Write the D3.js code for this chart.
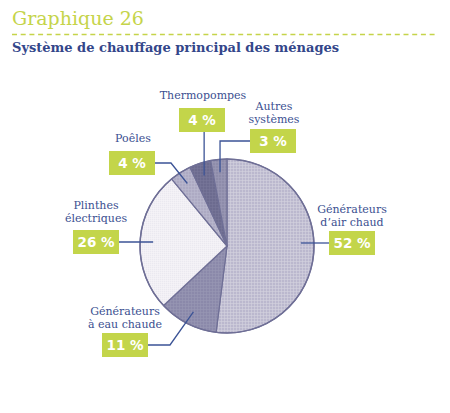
<!DOCTYPE html>
<html>
<head>
<meta charset="utf-8">
<script src="https://cdn.jsdelivr.net/npm/d3@7"></script>
<style>
  body { margin: 0; background: #fff; }
</style>
</head>
<body>
<div id="chart"></div>
<script>
let w = 450;
let h = 413;

// data
let categories = ["Générateurs d'air chaud", "Générateurs à eau chaude", "Plinthes électriques", "Poêles", "Thermopompes", "Autres systèmes"];
let labelLines = [["Générateurs", "d’air chaud"], ["Générateurs", "à eau chaude"], ["Plinthes", "électriques"], ["Poêles"], ["Thermopompes"], ["Autres", "systèmes"]];
let values = [52, 11, 26, 4, 4, 3];
let valueLabels = ["52 %", "11 %", "26 %", "4 %", "4 %", "3 %"];

let sliceColors = ["#bbb8ce", "#8b89aa", "#ebe9f0", "#adaac3", "#6c6b8f", "#8e8caa"];
let green = "#c3d54a";
let blue = "#3b4f91";

// label placement (box top-left, text centre / first baseline, leader type)
let layout = [
  {box: [329, 231], text: [352, 213], side: "left"},
  {box: [102, 333], text: [125, 315], side: "right", elbow: 22},
  {box: [73, 230], text: [96, 209], side: "right"},
  {box: [109, 151], text: [133, 142], side: "right", elbow: 16},
  {box: [179, 108], text: [203, 99], side: "bottom"},
  {box: [250, 129], text: [274, 110], side: "left", elbow: "end"}
];
let boxW = 46, boxH = 24;

let cx = 227, cy = 246, r = 87;

let svg = d3.select("#chart").append("svg")
  .attr("width", w)
  .attr("height", h);

// textures
let defs = svg.append("defs");
let pats = [
  {id: "pAir", base: sliceColors[0], line: "#d4d2e0", step: 3},
  {id: "pEau", base: sliceColors[1], line: "#9897b4", step: 3},
  {id: "pPli", base: sliceColors[2], line: "#f6f5f8", step: 2},
  {id: "pPoe", base: sliceColors[3], line: "#bbb9cf", step: 3},
  {id: "pThe", base: sliceColors[4], line: "#78779a", step: 3},
  {id: "pAut", base: sliceColors[5], line: "#9b99b5", step: 3}
];
pats.forEach(function(p){
  let pat = defs.append("pattern")
    .attr("id", p.id)
    .attr("patternUnits", "userSpaceOnUse")
    .attr("width", p.step)
    .attr("height", p.step);
  pat.append("rect").attr("width", p.step).attr("height", p.step).attr("fill", p.base);
  pat.append("rect").attr("width", p.step).attr("height", 1).attr("fill", p.line).attr("opacity", 0.6);
  pat.append("rect").attr("width", 1).attr("height", p.step).attr("fill", p.line).attr("opacity", 0.6);
});

// title
svg.append("text")
  .text("Graphique 26")
  .attr("x", 12)
  .attr("y", 25)
  .attr("fill", "#c5d44a")
  .style("font-family", "DejaVu Serif")
  .style("font-size", "19px");

svg.append("line")
  .attr("x1", 12).attr("x2", 435)
  .attr("y1", 34.5).attr("y2", 34.5)
  .attr("stroke", "#c5d44a")
  .attr("stroke-width", 1.5)
  .attr("stroke-dasharray", "5,3.7");

svg.append("text")
  .text("Système de chauffage principal des ménages")
  .attr("x", 12)
  .attr("y", 52)
  .attr("fill", "#33468a")
  .style("font-family", "DejaVu Serif")
  .style("font-weight", "bold")
  .style("font-size", "13px");

// pie
let pie = d3.pie().sort(null).value(function(d){ return d; });
let arcs = pie(values);
let arc = d3.arc().innerRadius(0).outerRadius(r);
let inner = d3.arc().innerRadius(74).outerRadius(74);

let g = svg.append("g").attr("transform", "translate(" + cx + "," + cy + ")");

g.selectAll(".slice").data(arcs).enter()
  .append("path")
  .attr("class", "slice")
  .attr("d", arc)
  .attr("fill", function(d, i){ return "url(#" + pats[i].id + ")"; })
  .attr("stroke", "#6f6f96")
  .attr("stroke-width", 1.2)
  .attr("stroke-linejoin", "round");

g.append("circle")
  .attr("r", r)
  .attr("fill", "none")
  .attr("stroke", "#6f6f96")
  .attr("stroke-width", 1.5);

// leaders
arcs.forEach(function(d, i){
  let L = layout[i];
  let c = inner.centroid(d);
  let end = [cx + c[0], cy + c[1]];
  let bx = L.box[0], by = L.box[1];
  let pts = [];
  if (L.side === "bottom") {
    pts.push([end[0], by + boxH]);
    pts.push(end);
  } else {
    let sx = L.side === "right" ? bx + boxW : bx;
    let sy = by + boxH / 2;
    pts.push([sx, sy]);
    if (L.elbow === "end") {
      pts.push([end[0], sy]);
      pts.push(end);
    } else if (L.elbow) {
      pts.push([sx + L.elbow, sy]);
      pts.push(end);
    } else {
      pts.push([end[0], sy]);
    }
  }
  svg.append("path")
    .attr("d", d3.line()(pts))
    .attr("fill", "none")
    .attr("stroke", "#3b5396")
    .attr("stroke-width", 1.3);
});

// label boxes and texts
arcs.forEach(function(d, i){
  let L = layout[i];
  svg.append("rect")
    .attr("x", L.box[0]).attr("y", L.box[1])
    .attr("width", boxW).attr("height", boxH)
    .attr("fill", green);
  svg.append("text")
    .text(valueLabels[i])
    .attr("x", L.box[0] + boxW / 2)
    .attr("y", L.box[1] + boxH / 2 + 5)
    .attr("text-anchor", "middle")
    .attr("fill", "#fff")
    .style("font-family", "DejaVu Sans")
    .style("font-weight", "bold")
    .style("font-size", "13.5px");
  let t = svg.append("text")
    .attr("text-anchor", "middle")
    .attr("fill", blue)
    .style("font-family", "DejaVu Serif")
    .style("font-size", "11px");
  labelLines[i].forEach(function(line, j){
    t.append("tspan")
      .attr("x", L.text[0])
      .attr("y", L.text[1] + j * 12.5)
      .text(line);
  });
});
</script>
</body>
</html>
